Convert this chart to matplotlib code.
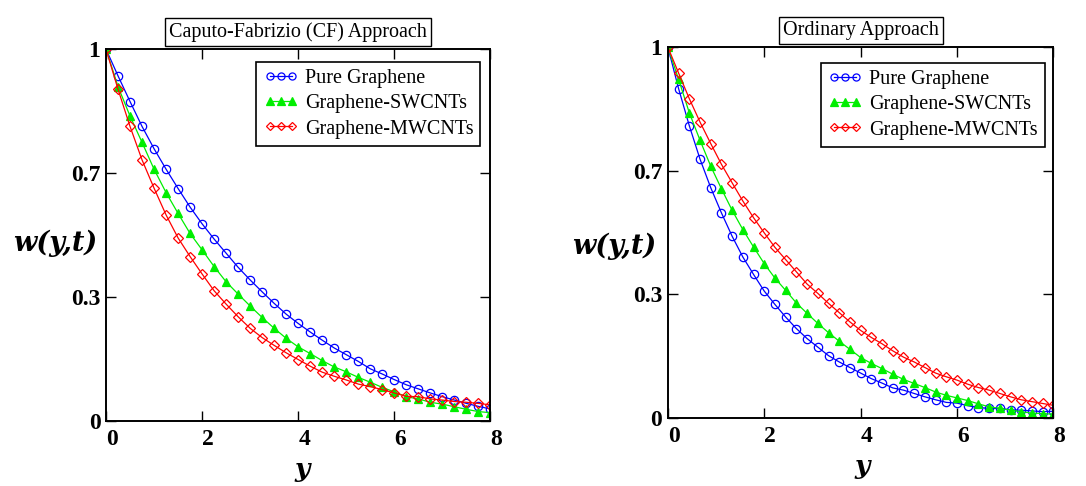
import numpy as np
import matplotlib.pyplot as plt

# x grids: CF panel sampled every 0.25, ordinary panel every 8/36
y_cf = np.linspace(0, 8, 33)
y_ord = np.linspace(0, 8, 37)

labels = ['Pure Graphene', 'Graphene-SWCNTs', 'Graphene-MWCNTs']

# Caputo-Fabrizio approach
cf_pure = [1.0, 0.928, 0.859, 0.792, 0.732, 0.677, 0.625, 0.575, 0.530, 0.489, 0.451,
           0.413, 0.379, 0.347, 0.316, 0.287, 0.262, 0.239, 0.217, 0.196, 0.178, 0.160,
           0.140, 0.126, 0.111, 0.097, 0.086, 0.075, 0.065, 0.056, 0.047, 0.039, 0.032]
cf_swcnt = [1.0, 0.899, 0.820, 0.749, 0.677, 0.614, 0.558, 0.504, 0.460, 0.415, 0.374,
            0.341, 0.309, 0.278, 0.249, 0.222, 0.199, 0.181, 0.162, 0.145, 0.132, 0.117,
            0.104, 0.090, 0.078, 0.065, 0.059, 0.050, 0.045, 0.038, 0.031, 0.025, 0.022]
cf_mwcnt = [1.0, 0.892, 0.792, 0.702, 0.626, 0.554, 0.492, 0.442, 0.395, 0.350, 0.314,
            0.280, 0.249, 0.224, 0.203, 0.183, 0.165, 0.147, 0.131, 0.120, 0.110, 0.099,
            0.092, 0.084, 0.075, 0.066, 0.065, 0.059, 0.056, 0.052, 0.050, 0.047, 0.043]

# Ordinary approach
ord_pure = [1.0, 0.888, 0.788, 0.698, 0.621, 0.553, 0.490, 0.434, 0.387, 0.342, 0.306,
            0.272, 0.241, 0.214, 0.191, 0.168, 0.151, 0.136, 0.121, 0.106, 0.094, 0.081,
            0.075, 0.066, 0.057, 0.049, 0.042, 0.040, 0.033, 0.028, 0.026, 0.026, 0.022,
            0.021, 0.019, 0.017, 0.018]
ord_swcnt = [1.0, 0.913, 0.823, 0.749, 0.679, 0.618, 0.560, 0.508, 0.461, 0.416, 0.377,
             0.344, 0.310, 0.282, 0.255, 0.230, 0.207, 0.185, 0.163, 0.147, 0.133, 0.118,
             0.104, 0.093, 0.082, 0.070, 0.061, 0.054, 0.047, 0.038, 0.030, 0.026, 0.021,
             0.017, 0.013, 0.012, 0.010]
ord_mwcnt = [1.0, 0.930, 0.861, 0.798, 0.740, 0.684, 0.634, 0.585, 0.540, 0.499, 0.460,
             0.427, 0.394, 0.361, 0.336, 0.309, 0.284, 0.259, 0.236, 0.217, 0.200, 0.181,
             0.164, 0.151, 0.136, 0.121, 0.111, 0.102, 0.091, 0.082, 0.075, 0.066, 0.057,
             0.049, 0.044, 0.039, 0.034]

xticks = [0, 2, 4, 6, 8]
yticks = [0, 1/3, 2/3, 1]
ytick_labels = ['0', '0.3', '0.7', '1']

styles = [dict(color='#0000ff', marker='o', mfc='none', mec='#0000ff'),
          dict(color='#00ee00', marker='^', mfc='#00ee00', mec='#00ee00'),
          dict(color='#ff0000', marker='D', mfc='none', mec='#ff0000', ms=4.8)]

serif = 'Liberation Serif'
mathfont = 'DejaVu Serif'

fig = plt.figure(figsize=(10.86, 4.86), dpi=100)
# rect, title, x grid, series, ylabel coords, xlabel coords, legend anchor
panels = [([0.0976, 0.134, 0.354, 0.765], 'Caputo-Fabrizio (CF) Approach', y_cf,
           [cf_pure, cf_swcnt, cf_mwcnt], (-0.132, 0.478), (0.51, -0.13), (0.974, 0.965)),
          ([0.615, 0.140, 0.355, 0.763], 'Ordinary Approach', y_ord,
           [ord_pure, ord_swcnt, ord_mwcnt], (-0.14, 0.464), (0.505, -0.132), (0.977, 0.957))]

for rect, title, xs, series, ylc, xlc, anchor in panels:
    ax = fig.add_axes(rect)
    for vals, lab, st in zip(series, labels, styles):
        kw = dict(lw=0.9, ms=6, mew=0.9)
        kw.update(st)
        ax.plot(xs, vals, label=lab, **kw)
    ax.set_xlim(0, 8)
    ax.set_ylim(0, 1)
    ax.set_xticks(xticks)
    ax.set_yticks(yticks)
    ax.set_yticklabels(ytick_labels)
    ax.tick_params(direction='in', length=7, width=1, top=True, right=True, labelsize=17)
    ax.tick_params(axis='x', pad=6)
    ax.tick_params(axis='y', pad=4)
    for t in ax.get_xticklabels():
        t.set_horizontalalignment('left')
    for t in ax.get_xticklabels() + ax.get_yticklabels():
        t.set_fontfamily(serif)
        t.set_fontweight('bold')
    for s in ax.spines.values():
        s.set_linewidth(1.4)
    ax.set_xlabel('y', fontfamily=mathfont, fontweight='bold', fontstyle='italic',
                  fontsize=19, va='center')
    ax.xaxis.set_label_coords(*xlc)
    ax.set_ylabel('w(y,t)', fontfamily=mathfont, fontweight='bold', fontstyle='italic',
                  fontsize=19.5, rotation=0, va='center', ha='center')
    ax.yaxis.set_label_coords(*ylc)
    ax.set_title(title, fontfamily=serif, fontsize=14.5, pad=9,
                 bbox=dict(boxstyle='square,pad=0.2', fc='white', ec='black', lw=1))
    leg = ax.legend(loc='upper right', numpoints=3, handlelength=1.7, handletextpad=0.35,
                    fancybox=False, edgecolor='black', framealpha=1, borderpad=0.35,
                    labelspacing=0.3, borderaxespad=0, prop=dict(family=serif, size=14.5),
                    markerscale=0.85, bbox_to_anchor=anchor)
    leg.get_frame().set_linewidth(1.2)

fig.savefig('out.png', dpi=100)
